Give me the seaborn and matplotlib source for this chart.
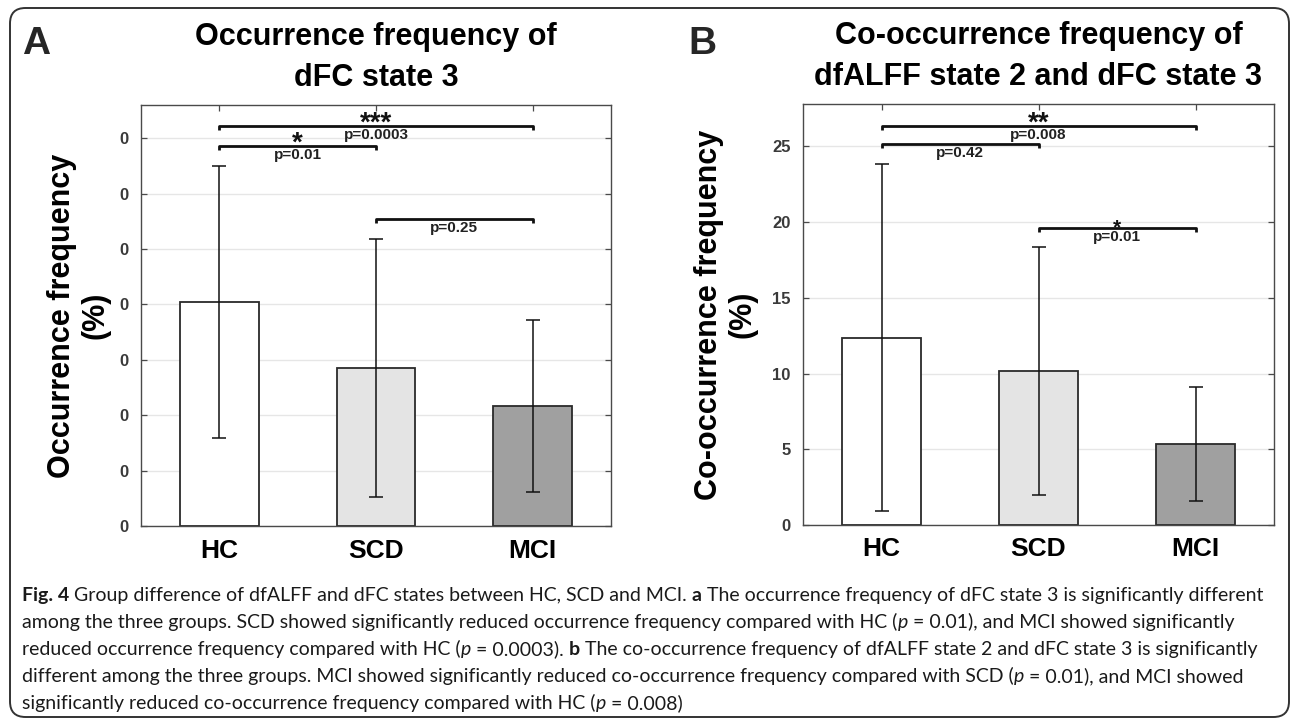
import numpy as np
import pandas as pd
import matplotlib
matplotlib.use("Agg")
import matplotlib.pyplot as plt
import seaborn as sns
from matplotlib.patches import FancyBboxPatch
from matplotlib import font_manager

# ---------------- data ----------------
groups = ["HC", "SCD", "MCI"]
bar_colors = ["#ffffff", "#e4e4e4", "#a0a0a0"]

occ_mean = [0.202, 0.143, 0.108]
occ_sd = [0.123, 0.1165, 0.0775]
occ_yticks = [0.0, 0.05, 0.10, 0.15, 0.20, 0.25, 0.30, 0.35]
occ_yticklabels = ["0", "0", "0", "0", "0", "0", "0", "0"]
occ_pairs = [(0, 2), (0, 1), (1, 2)]
occ_bracket_y = [0.3613, 0.3433, 0.2771]
occ_stars = ["***", "*", ""]
occ_p = ["p=0.0003", "p=0.01", "p=0.25"]

cooc_mean = [12.37, 10.17, 5.37]
cooc_sd = [11.47, 8.22, 3.77]
cooc_yticks = [0, 5, 10, 15, 20, 25]
cooc_yticklabels = ["0", "5", "10", "15", "20", "25"]
cooc_pairs = [(0, 2), (0, 1), (1, 2)]
cooc_bracket_y = [26.37, 25.14, 19.6]
cooc_stars = ["**", "", "*"]
cooc_p = ["p=0.008", "p=0.42", "p=0.01"]

title_A = "Occurrence frequency of\ndFC state 3"
title_B = "Co-occurrence frequency of\ndfALFF state 2 and dFC state 3"
ylabel_A = "Occurrence frequency\n(%)"
ylabel_B = "Co-occurrence frequency\n(%)"

caption_lines = [
    [("Fig. 4", "b"), (" Group difference of dfALFF and dFC states between HC, SCD and MCI. ", "r"),
     ("a", "b"), (" The occurrence frequency of dFC state 3 is significantly different", "r")],
    [("among the three groups. SCD showed significantly reduced occurrence frequency compared with HC (", "r"),
     ("p", "i"), (" = 0.01), and MCI showed significantly", "r")],
    [("reduced occurrence frequency compared with HC (", "r"), ("p", "i"), (" = 0.0003). ", "r"),
     ("b", "b"), (" The co-occurrence frequency of dfALFF state 2 and dFC state 3 is significantly", "r")],
    [("different among the three groups. MCI showed significantly reduced co-occurrence frequency compared with SCD (", "r"),
     ("p", "i"), (" = 0.01), and MCI showed", "r")],
    [("significantly reduced co-occurrence frequency compared with HC (", "r"), ("p", "i"), (" = 0.008)", "r")],
]

# ---------------- style ----------------
sns.set_style("ticks")
plt.rcParams["font.family"] = ["Liberation Sans", "DejaVu Sans"]


def has_font(name):
    try:
        font_manager.findfont(font_manager.FontProperties(family=name), fallback_to_default=False)
        return True
    except Exception:
        return False


cap_family = "Liberation Sans Narrow" if has_font("Liberation Sans Narrow") else "Lato"

W, H = 1292, 719
fig = plt.figure(figsize=(W / 100, H / 100), dpi=100)


def frac_rect(l, t, r, b):
    return [l / W, 1 - b / H, (r - l) / W, (b - t) / H]


axA = fig.add_axes(frac_rect(141, 105, 611, 526))
axB = fig.add_axes(frac_rect(803, 104, 1274, 525))

AX_COL = "#4a4a4a"


def draw_panel(ax, means, sds, yticks, yticklabels, ytop, pairs, bys, stars, ptexts,
               title, ylabel, ylab_x, star_sizes):
    df = pd.DataFrame({"group": groups, "value": means})
    sns.barplot(data=df, x="group", y="value", hue="group", palette=bar_colors,
                saturation=1, width=0.5, edgecolor="#2a2a2a", linewidth=1.3,
                legend=False, ax=ax, zorder=2)
    xs = np.arange(len(groups))
    ax.errorbar(xs, means, yerr=sds, fmt="none", ecolor="#111111",
                elinewidth=1.1, capsize=5, capthick=1.1, zorder=3)
    ax.set_xlim(-0.5, len(groups) - 0.5)
    ax.set_ylim(0, ytop)
    ax.set_yticks(yticks)
    ax.set_yticklabels(yticklabels)
    ax.set_xticks(xs)
    ax.set_xticklabels(groups)
    ax.set_xlabel("")
    ax.set_ylabel("")
    ax.set_axisbelow(True)
    ax.yaxis.grid(True, color="#e6e6e6", linewidth=1.0, zorder=0)
    for s in ax.spines.values():
        s.set_visible(True)
        s.set_color(AX_COL)
        s.set_linewidth(1.0)
    ax.tick_params(axis="both", direction="in", length=4, width=0.9, color=AX_COL,
                   top=True, right=True)
    ax.tick_params(axis="x", labelsize=19, pad=9, labelcolor="black")
    ax.tick_params(axis="y", labelsize=12, pad=9, labelcolor="#3a3a3a")
    for lab in ax.get_xticklabels() + ax.get_yticklabels():
        lab.set_fontweight("bold")

    # brackets
    ax_h = ax.get_position().height * H
    drop = ytop * 4.0 / ax_h
    for (i, j), by, st, pt, ss in zip(pairs, bys, stars, ptexts, star_sizes):
        ax.plot([xs[i], xs[i], xs[j], xs[j]], [by - drop, by, by, by - drop],
                color="#111111", linewidth=2.0, solid_capstyle="butt", zorder=4)
        mid = (xs[i] + xs[j]) / 2
        if st:
            ax.annotate(st, xy=(mid, by), xytext=(0, -3.6 if ss > 14 else -1.5),
                        textcoords="offset points", ha="center", va="baseline",
                        fontsize=ss, fontweight="bold", color="#111111", zorder=5)
        ax.annotate(pt, xy=(mid, by), xytext=(0, -1.5), textcoords="offset points",
                    ha="center", va="top", fontsize=11, fontweight="bold",
                    color="#222222", zorder=5)

    ax.set_title(title, fontsize=22, fontweight="bold", pad=14, color="black",
                 linespacing=1.45)
    ax.set_ylabel(ylabel, fontsize=22, fontweight="bold", color="black",
                  ha="center", va="center", linespacing=1.15)
    ax.yaxis.set_label_coords(ylab_x, 0.5)


draw_panel(axA, occ_mean, occ_sd, occ_yticks, occ_yticklabels, 0.38, occ_pairs,
           occ_bracket_y, occ_stars, occ_p, title_A, ylabel_A, -0.132, [20, 20, 20])
draw_panel(axB, cooc_mean, cooc_sd, cooc_yticks, cooc_yticklabels, 27.8, cooc_pairs,
           cooc_bracket_y, cooc_stars, cooc_p, title_B, ylabel_B, -0.1645, [20, 20, 15])

# panel letters
fig.text(22 / W, 1 - 54 / H, "A", fontsize=28, fontweight="bold", va="baseline", ha="left")
fig.text(688 / W, 1 - 54 / H, "B", fontsize=28, fontweight="bold", va="baseline", ha="left")

# frame
frame = FancyBboxPatch((10 / W, 2 / H), (1289 - 10) / W, (711 - 2) / H,
                       boxstyle="round,pad=0,rounding_size=0.012",
                       transform=fig.transFigure, fill=False, edgecolor="#333333",
                       linewidth=1.4, mutation_aspect=W / H)
fig.patches.append(frame)

# caption
renderer = fig.canvas.get_renderer()
style_kw = {"b": dict(fontweight="bold"), "r": dict(), "i": dict(fontstyle="italic")}


def seg_width(s, size, st):
    t = fig.text(0, 0, "|" + s + "|", fontsize=size, family=cap_family, **style_kw[st])
    w1 = t.get_window_extent(renderer).width
    t.set_text("||")
    w2 = t.get_window_extent(renderer).width
    t.remove()
    return w1 - w2


base = 10.0
w_line1 = sum(seg_width(s, base, st) for s, st in caption_lines[0])
cap_size = base * (1262 - 22) / w_line1
x0 = 22
baselines = [601, 628, 655, 682, 709]
for line, yb in zip(caption_lines, baselines):
    x = x0
    for s, st in line:
        fig.text(x / W, 1 - yb / H, s, fontsize=cap_size, family=cap_family,
                 va="baseline", ha="left", color="#1a1a1a", **style_kw[st])
        x += seg_width(s, cap_size, st)

fig.savefig("out.png", dpi=100)
